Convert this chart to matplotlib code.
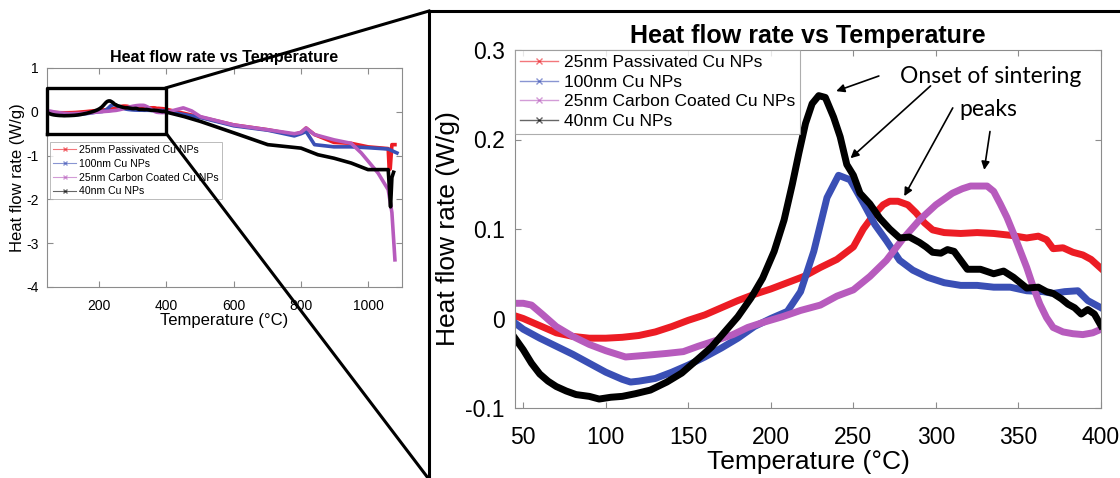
import numpy as np
import matplotlib
matplotlib.use('Agg')
import matplotlib.pyplot as plt
from matplotlib.lines import Line2D

plt.rcParams['font.family'] = ['Liberation Sans', 'DejaVu Sans']
plt.rcParams['axes.unicode_minus'] = False

labels = ['25nm Passivated Cu NPs', '100nm Cu NPs',
          '25nm Carbon Coated Cu NPs', '40nm Cu NPs']
colors = ['#ec1c24', '#3a4fb5', '#b75bbd', '#000000']

# zoomed region, 45-400 C
red_t = [45, 50, 60, 70, 80, 90, 100, 110, 120, 130, 140, 150, 160, 170, 180,
         190, 200, 210, 220, 230, 240, 250, 256, 262, 268, 272, 277, 283, 288,
         293, 298, 305, 315, 325, 335, 345, 355, 362, 367, 371, 377, 383, 389,
         394, 400]
red_v = [0.003, 0.0, -0.008, -0.016, -0.02, -0.022, -0.022, -0.021, -0.019,
         -0.015, -0.009, -0.002, 0.004, 0.012, 0.02, 0.027, 0.033, 0.04,
         0.047, 0.057, 0.066, 0.08, 0.1, 0.115, 0.127, 0.131, 0.131, 0.127,
         0.118, 0.107, 0.099, 0.096, 0.095, 0.096, 0.095, 0.093, 0.09, 0.092,
         0.088, 0.078, 0.079, 0.074, 0.071, 0.066, 0.056]

blue_t = [45, 50, 60, 70, 80, 90, 100, 110, 115, 120, 130, 140, 150, 160,
          170, 180, 190, 200, 210, 218, 226, 234, 241, 248, 256, 263, 270,
          278, 286, 295, 305, 315, 325, 335, 345, 355, 365, 371, 378, 386,
          392, 400]
blue_v = [-0.005, -0.012, -0.022, -0.031, -0.04, -0.05, -0.06, -0.068,
          -0.071, -0.07, -0.067, -0.06, -0.052, -0.043, -0.033, -0.022,
          -0.009, 0.0, 0.008, 0.03, 0.075, 0.135, 0.16, 0.155, 0.129, 0.105,
          0.087, 0.065, 0.054, 0.046, 0.04, 0.037, 0.037, 0.035, 0.035,
          0.031, 0.03, 0.028, 0.03, 0.031, 0.02, 0.012]

mag_t = [45, 50, 55, 62, 70, 80, 90, 100, 112, 125, 137, 147, 156, 166,
         177, 186, 196, 207, 218, 230, 240, 250, 260, 270, 280, 290, 300,
         310, 316, 321, 326, 331, 335, 339, 343, 347, 351, 355, 359, 363,
         367, 371, 377, 383, 389, 395, 400]
mag_v = [0.017, 0.017, 0.015, 0.004, -0.009, -0.02, -0.029, -0.036, -0.043,
         -0.041, -0.039, -0.037, -0.031, -0.025, -0.018, -0.01, -0.004,
         0.002, 0.009, 0.015, 0.025, 0.032, 0.047, 0.065, 0.089, 0.11, 0.127,
         0.14, 0.145, 0.148, 0.148, 0.148, 0.142, 0.128, 0.113, 0.095, 0.076,
         0.057, 0.035, 0.016, 0.001, -0.01, -0.015, -0.017, -0.018, -0.016,
         -0.012]

blk_t = [45, 50, 55, 60, 65, 70, 76, 82, 90, 96, 103, 110, 118, 127, 137,
         146, 156, 164, 172, 180, 188, 195, 202, 208, 213, 217, 221, 225,
         229, 233, 238, 242, 246, 250, 254, 260, 266, 272, 278, 284, 290,
         294, 298, 303, 307, 311, 315, 319, 327, 335, 341, 347, 351, 355,
         362, 367, 371, 376, 380, 384, 388, 392, 396, 400]
blk_v = [-0.022, -0.035, -0.05, -0.062, -0.07, -0.076, -0.081, -0.085,
         -0.087, -0.09, -0.088, -0.087, -0.084, -0.08, -0.071, -0.061,
         -0.045, -0.032, -0.015, 0.002, 0.023, 0.045, 0.075, 0.11, 0.15,
         0.185, 0.218, 0.24, 0.249, 0.247, 0.225, 0.203, 0.172, 0.16, 0.14,
         0.128, 0.112, 0.1, 0.09, 0.091, 0.085, 0.08, 0.074, 0.073, 0.077,
         0.075, 0.065, 0.055, 0.055, 0.05, 0.053, 0.046, 0.04, 0.034, 0.035,
         0.03, 0.028, 0.022, 0.016, 0.012, 0.005, 0.01, 0.005, -0.008]

# overview continuation, 400-1085 C
red_hi_t = [443, 501, 600, 701, 780, 800, 815, 840, 898, 949, 999, 1059,
            1062, 1065, 1070, 1079]
red_hi_v = [-0.02, -0.12, -0.3, -0.41, -0.52, -0.47, -0.37, -0.52, -0.7,
            -0.72, -0.8, -0.84, -1.32, -1.3, -0.75, -0.75]
blue_hi_t = [443, 501, 600, 701, 780, 800, 815, 840, 898, 949, 999, 1059,
             1085]
blue_hi_v = [-0.05, -0.13, -0.32, -0.42, -0.55, -0.5, -0.45, -0.75, -0.8,
             -0.8, -0.82, -0.85, -0.94]
mag_hi_t = [430, 450, 475, 501, 600, 701, 780, 800, 815, 840, 898, 949, 979,
            1029, 1059, 1070, 1079]
mag_hi_v = [0.05, 0.09, 0.02, -0.11, -0.3, -0.41, -0.5, -0.47, -0.37, -0.52,
            -0.64, -0.72, -0.94, -1.4, -1.78, -2.3, -3.38]
blk_hi_t = [453, 501, 600, 701, 800, 850, 898, 949, 999, 1059, 1063, 1066,
            1070, 1075]
blk_hi_v = [-0.11, -0.22, -0.48, -0.75, -0.83, -0.98, -1.06, -1.17, -1.32,
            -1.32, -1.8, -2.17, -1.5, -1.38]

zoom_data = [(red_t, red_v), (blue_t, blue_v), (mag_t, mag_v), (blk_t, blk_v)]
hi_data = [(red_hi_t, red_hi_v), (blue_hi_t, blue_hi_v),
           (mag_hi_t, mag_hi_v), (blk_hi_t, blk_hi_v)]

W, H = 1120, 478
fig = plt.figure(figsize=(W / 100, H / 100), dpi=100)

spine_col = '#8c8c8c'


def style_axes(ax, size, xpad, ypad):
    for s in ax.spines.values():
        s.set_color(spine_col)
        s.set_linewidth(0.8)
    ax.tick_params(direction='in', top=True, right=True, color=spine_col,
                   labelsize=size, length=4, width=0.8)
    ax.tick_params(axis='x', pad=xpad)
    ax.tick_params(axis='y', pad=ypad)


# ---- overview plot
ax1 = fig.add_axes([47 / W, 1 - 287 / H, 355 / W, 219 / H])
for (t, v), (th, vh), c in zip(zoom_data, hi_data, colors):
    ax1.plot(list(t) + list(th), list(v) + list(vh), color=c, lw=2.6)
ax1.set_xlim(45, 1100)
ax1.set_ylim(-4, 1)
ax1.set_xticks([200, 400, 600, 800, 1000])
ax1.set_yticks([-4, -3, -2, -1, 0, 1])
style_axes(ax1, 10, 8.5, 6)
ax1.set_title('Heat flow rate vs Temperature', fontsize=11.5,
              fontweight='bold', pad=4)
ax1.set_xlabel('Temperature (°C)', fontsize=12, labelpad=0)
ax1.set_ylabel('Heat flow rate (W/g)', fontsize=12, labelpad=1)

small_handles = [Line2D([], [], color=c, lw=0.8, marker='x', ms=3,
                        alpha=0.6) for c in colors]
leg1 = ax1.legend(small_handles, labels, loc='upper left',
                  bbox_to_anchor=(0.008, 0.662), fontsize=7.6,
                  frameon=True, fancybox=False, handlelength=2.2,
                  handletextpad=0.3, labelspacing=0.35, borderpad=0.3,
                  borderaxespad=0)
leg1.get_frame().set_edgecolor('#aaaaaa')
leg1.get_frame().set_linewidth(0.7)

box_x0, box_x1, box_y0, box_y1 = 45, 400, -0.5, 0.55
ax1.plot([box_x0, box_x1, box_x1, box_x0, box_x0],
         [box_y0, box_y0, box_y1, box_y1, box_y0], color='black', lw=2.4,
         clip_on=False, zorder=5)

# ---- zoomed plot
ax2 = fig.add_axes([515 / W, 1 - 408 / H, 586 / W, 358 / H])
for (t, v), c in zip(zoom_data, colors):
    ax2.plot(t, v, color=c, lw=5)
ax2.set_xlim(45, 400)
ax2.set_ylim(-0.1, 0.3)
ax2.set_xticks([50, 100, 150, 200, 250, 300, 350, 400])
ax2.set_yticks([-0.1, 0, 0.1, 0.2, 0.3])
ax2.set_yticklabels(['-0.1', '0', '0.1', '0.2', '0.3'])
style_axes(ax2, 16.5, 13, 7.5)
ax2.set_title('Heat flow rate vs Temperature', fontsize=18,
              fontweight='bold', pad=5)
ax2.set_xlabel('Temperature (°C)', fontsize=19, labelpad=1)
ax2.set_ylabel('Heat flow rate (W/g)', fontsize=19, labelpad=4)

big_handles = [Line2D([], [], color=c, lw=1.0, marker='x', ms=5,
                      alpha=0.6) for c in colors]
leg2 = ax2.legend(big_handles, labels, loc='upper left', fontsize=12.5,
                  frameon=True, fancybox=False, handlelength=2.2,
                  handletextpad=0.3, labelspacing=0.25, borderpad=0.3,
                  borderaxespad=0)
leg2.get_frame().set_edgecolor('#999999')
leg2.get_frame().set_linewidth(0.8)

note_font = ['Lato', 'DejaVu Sans']
ax2.text(333, 0.27, 'Onset of sintering', fontsize=16.5, family=note_font,
         ha='center', va='center')
ax2.text(332, 0.233, 'peaks', fontsize=16.5, family=note_font,
         ha='center', va='center')
arrows = [((267, 0.272), (238, 0.253)), ((298, 0.262), (247, 0.177)),
          ((311, 0.238), (280, 0.134)), ((333, 0.212), (329, 0.163))]
for (x0, y0), (x1, y1) in arrows:
    ax2.annotate('', xy=(x1, y1), xytext=(x0, y0),
                 arrowprops=dict(arrowstyle='-|>', color='black', lw=1.2,
                                 mutation_scale=12))

# ---- frame round the zoomed plot and connector lines
fx0, fy0 = 429 / W, 1 - 11 / H
fig.add_artist(Line2D([fx0, 1.0], [fy0, fy0], color='black', lw=2.2))
fig.add_artist(Line2D([fx0, fx0], [fy0, 0.0], color='black', lw=2.2))

to_fig = ax1.transData + fig.transFigure.inverted()
top_corner = to_fig.transform((box_x1, box_y1))
bot_corner = to_fig.transform((box_x1, box_y0))
fig.add_artist(Line2D([top_corner[0], fx0], [top_corner[1], fy0],
                      color='black', lw=2.2))
fig.add_artist(Line2D([bot_corner[0], 428 / W], [bot_corner[1], 0.0],
                      color='black', lw=2.2))

fig.savefig('out.png', dpi=100)
